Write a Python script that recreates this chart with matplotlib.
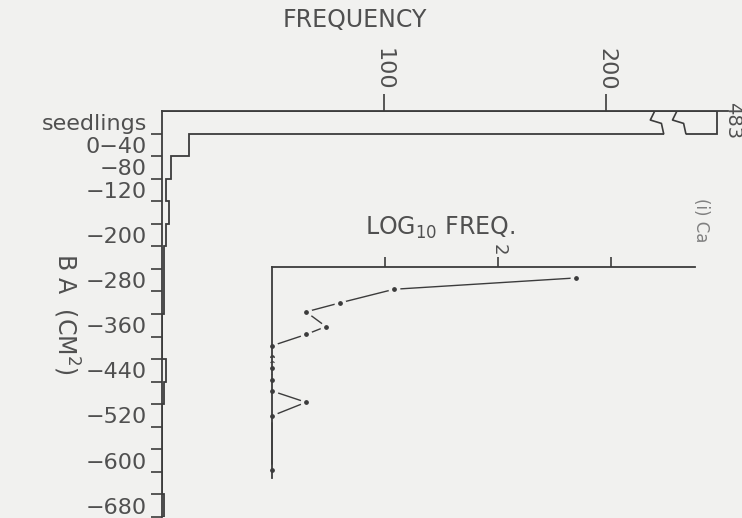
import numpy as np
import matplotlib
matplotlib.use('Agg')
import matplotlib.pyplot as plt

# basal area classes, top to bottom
classes = ['seedlings', '0−40', '−80', '−120', '−160', '−200', '−240', '−280', '−320',
           '−360', '−400', '−440', '−480', '−520', '−560', '−600', '−640', '−680']
shown_labels = ['seedlings', '0−40', '−80', '−120', '−200', '−280', '−360',
                '−440', '−520', '−600', '−680']
freq = [483, 12, 4, 2, 3, 2, 1, 1, 1, 0, 0, 2, 1, 0, 0, 0, 0, 1]
bar_cap = 250          # seedling bar is broken at this frequency

# log10 inset: frequencies and class position of each point
log_freq = [483, 12, 4, 2, 3, 2, 1, 1, 1, 1, 1, 1, 2, 1, 1]
log_pos = [0, 1, 2.2, 3, 4.3, 5, 6, 7, 7.5, 8, 9, 10, 11, 12.2, 17]

bg = '#f1f1ef'
ink = '#3c3c3c'
txt = '#505050'

plt.rcParams['font.family'] = ['DejaVu Sans']
plt.rcParams['mathtext.default'] = 'regular'

W, H = 742, 518
fig = plt.figure(figsize=(W / 100, H / 100), dpi=100, facecolor=bg)


def px_axes(x0, y0, x1, y1):
    a = fig.add_axes([x0 / W, 1 - y1 / H, (x1 - x0) / W, (y1 - y0) / H])
    a.set_facecolor('none')
    for s in ['right', 'bottom']:
        a.spines[s].set_visible(False)
    for s in ['top', 'left']:
        a.spines[s].set_color(ink)
        a.spines[s].set_linewidth(1.3)
    return a


# main histogram
ax = px_axes(162, 111, 728, 517)
ax.set_xlim(0, 255)
ax.set_ylim(len(freq) - 0.5, -0.5)
edges = np.arange(len(freq) + 1) - 0.5
ax.stairs(np.minimum(freq, bar_cap), edges, orientation='horizontal',
          baseline=0, color=ink, lw=1.3)

# break in the seedling bar
ax.plot([226, 236], [0.5, 0.5], color=bg, lw=3, solid_capstyle='butt')
for bx in [222, 232]:
    ax.plot([bx, bx - 2, bx + 3, bx + 4], [-0.5, -0.1, 0.05, 0.5], color=ink, lw=1.2)

ax.xaxis.tick_top()
ax.set_xticks([100, 200])
ax.set_xticklabels(['100', '200'], rotation=-90)
ax.tick_params(axis='x', direction='out', length=12, width=1.2, pad=3,
               labelsize=16, color=ink, labelcolor=txt)

ax.set_yticks(range(len(classes)))
ax.set_yticklabels([c if c in shown_labels else '' for c in classes])
ax.set_yticks(edges[1:], minor=True)
ax.tick_params(axis='y', which='major', length=0, pad=11, labelsize=16, labelcolor=txt)
ax.tick_params(axis='y', which='minor', direction='out', length=8, width=1.2, color=ink)

# log inset
ax2 = px_axes(272, 267, 695, 478)
ax2.set_xlim(0, 3.74)
ax2.set_ylim(17.7, -0.97)
ax2.set_yticks([])
ax2.xaxis.tick_top()
ax2.set_xticks([1, 2, 3])
ax2.set_xticklabels(['', '2', ''], rotation=-90)
ax2.tick_params(axis='x', direction='out', length=7, width=1.2, pad=1,
                labelsize=13, color=ink, labelcolor=txt)
ax2.plot(np.log10(log_freq), log_pos, '-', color=ink, lw=1, marker='o', ms=6,
         mfc=ink, mec=bg, mew=2.5, clip_on=False)

fig.text(355 / W, 1 - 20 / H, 'FREQUENCY', ha='center', va='center', fontsize=17, color=txt)
fig.text(440 / W, 1 - 228 / H, 'LOG$_{10}$ FREQ.', ha='center', va='center', fontsize=17, color=txt)
fig.text(66 / W, 1 - 314 / H, 'B A  (CM$^{2}$)', ha='center', va='center', rotation=-90,
         fontsize=17, color=txt)
fig.text(733 / W, 1 - 121 / H, '483', ha='center', va='center', rotation=-90,
         fontsize=14, color=txt)
fig.text(701 / W, 1 - 220 / H, '(i) Ca', ha='center', va='center', rotation=-90,
         fontsize=12, color='#808080')

fig.savefig('out.png', dpi=100, facecolor=bg)
